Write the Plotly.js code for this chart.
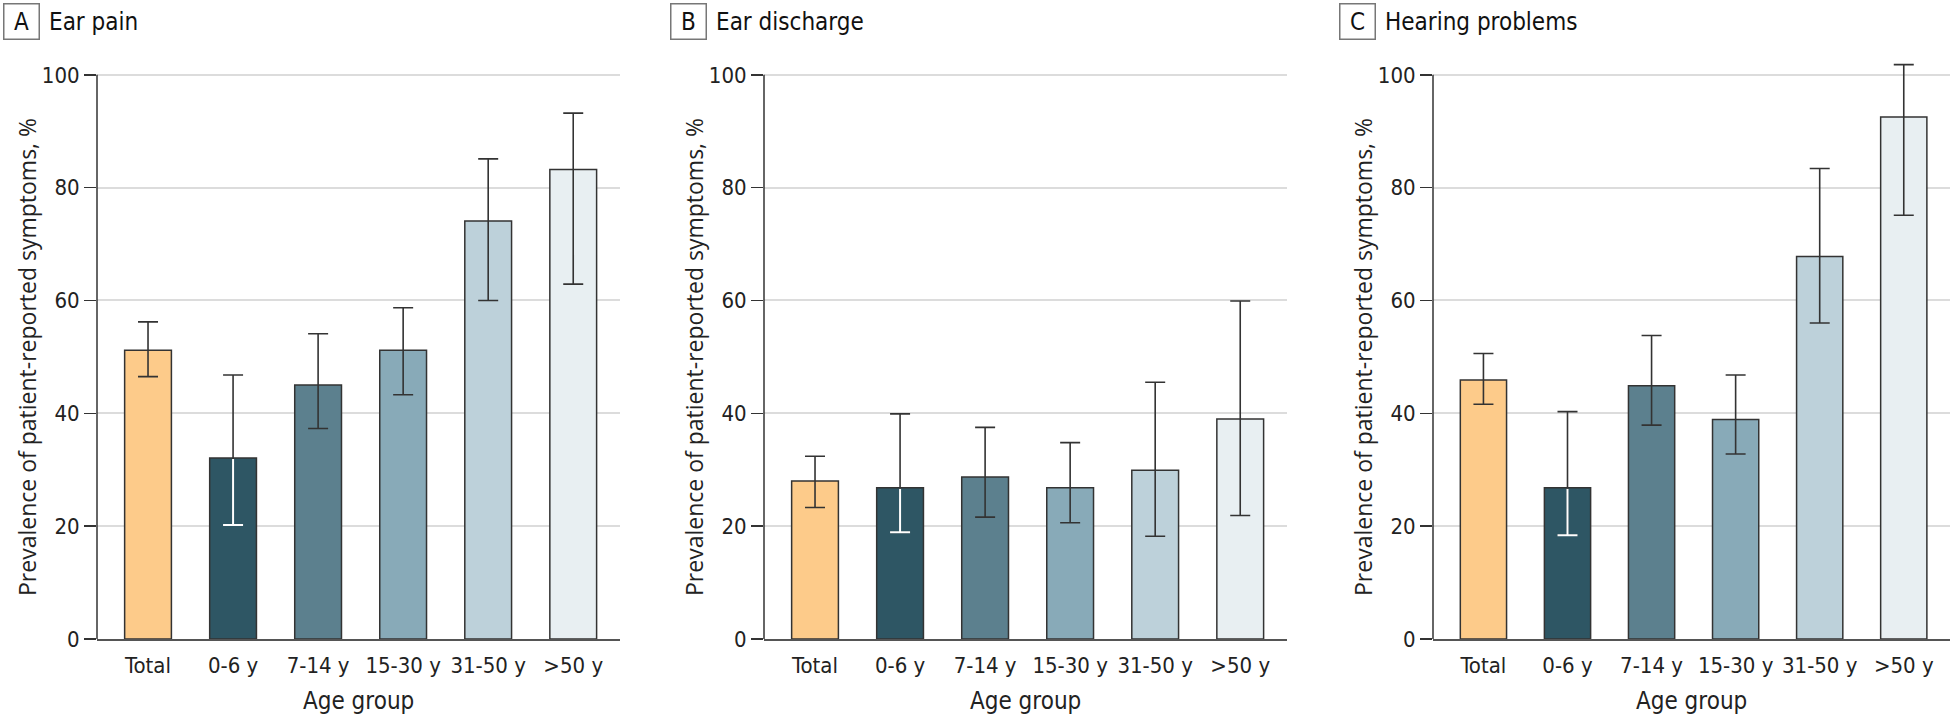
<!DOCTYPE html>
<html>
<head>
<meta charset="utf-8">
<script src="https://cdn.plot.ly/plotly-3.0.1.min.js"></script>
<style>html,body{margin:0;padding:0;background:#fff;}#chart{width:1954px;height:720px;}</style>
</head>
<body>
<div id="chart"></div>
<script>
// ---- Data ----
var categories = ['Total', '0-6 y', '7-14 y', '15-30 y', '31-50 y', '>50 y'];

var earPain      = [51.2, 32.1, 45.0, 51.2, 74.1, 83.2];
var earPainLow   = [46.5, 20.2, 37.3, 43.3, 60.0, 62.9];
var earPainHigh  = [56.2, 46.8, 54.1, 58.7, 85.1, 93.2];

var earDischarge     = [28.0, 26.8, 28.7, 26.8, 29.9, 39.0];
var earDischargeLow  = [23.3, 18.9, 21.6, 20.6, 18.2, 21.9];
var earDischargeHigh = [32.4, 39.9, 37.5, 34.8, 45.5, 59.9];

var hearing     = [45.9, 26.8, 44.9, 38.9, 67.8, 92.5];
var hearingLow  = [41.6, 18.4, 37.9, 32.8, 56.0, 75.1];
var hearingHigh = [50.6, 40.3, 53.8, 46.8, 83.4, 101.8];

var panelLetters = ['A', 'B', 'C'];
var panelTitles = ['Ear pain', 'Ear discharge', 'Hearing problems'];
var yTicks = [0, 20, 40, 60, 80, 100];

var barColors = ['#FDCB8A', '#2E5664', '#5C808E', '#88AAB8', '#BDD1DA', '#E8EFF2'];
var darkIndex = 1; // error bar drawn white inside the darkest bar

// ---- Build ----
var W = 1954, H = 720;
var panels = [
  {v: earPain, lo: earPainLow, hi: earPainHigh, x0: 97, x1: 620},
  {v: earDischarge, lo: earDischargeLow, hi: earDischargeHigh, x0: 764, x1: 1287},
  {v: hearing, lo: hearingLow, hi: hearingHigh, x0: 1433, x1: 1950}
];
var yMax = 103;               // head-room so the tallest CI cap is not clipped
var yBottom = 639, yTop100 = 74.8;
var pxPerUnit = (yBottom - yTop100) / 100;
var yTopPx = yBottom - yMax * pxPerUnit;
var condensed = '"Liberation Sans Narrow", "DejaVu Sans Condensed", "Arial Narrow", sans-serif';
var regular = '"Open Sans", "Noto Sans", sans-serif';

var traces = [];
var layout = {
  width: W, height: H,
  margin: {l: 0, r: 0, t: 0, b: 0},
  paper_bgcolor: '#fff', plot_bgcolor: '#fff',
  showlegend: false,
  barmode: 'overlay',
  annotations: [],
  shapes: [],
  font: {family: condensed, color: '#222'}
};

panels.forEach(function(p, i) {
  var sfx = i === 0 ? '' : String(i + 1);
  var xa = 'x' + sfx, ya = 'y' + sfx;
  var plus = p.hi.map(function(h, k) { return h - p.v[k]; });
  var minus = p.lo.map(function(l, k) { return p.v[k] - l; });
  traces.push({
    type: 'bar', x: categories, y: p.v, xaxis: xa, yaxis: ya,
    width: 0.55,
    marker: {color: barColors, line: {color: '#333', width: 1.5}},
    error_y: {type: 'data', symmetric: false, array: plus, arrayminus: minus,
              color: '#333', thickness: 1.6, width: 10},
    cliponaxis: false, hoverinfo: 'skip'
  });
  // white portion of the error bar inside the dark bar
  traces.push({
    type: 'scatter', mode: 'markers', x: [categories[darkIndex]], y: [p.lo[darkIndex]],
    xaxis: xa, yaxis: ya, marker: {size: 1, opacity: 0},
    error_y: {type: 'data', symmetric: false, array: [p.v[darkIndex] - p.lo[darkIndex] - 0.2], arrayminus: [0],
              color: '#ffffff', thickness: 2, width: 0},
    hoverinfo: 'skip'
  });
  traces.push({
    type: 'scatter', mode: 'markers', x: [categories[darkIndex]], y: [p.lo[darkIndex]],
    xaxis: xa, yaxis: ya, marker: {size: 1, opacity: 0},
    error_y: {type: 'data', symmetric: false, array: [0], arrayminus: [0],
              color: '#ffffff', thickness: 2, width: 10},
    hoverinfo: 'skip'
  });

  layout['xaxis' + sfx] = {
    domain: [p.x0 / W, p.x1 / W], anchor: ya,
    type: 'category', range: [-0.6, 5.55],
    showline: true, linecolor: '#555', linewidth: 2,
    ticks: 'outside', ticklen: 6, tickcolor: 'rgba(0,0,0,0)',
    tickfont: {family: condensed, size: 22, color: '#222'},
    showgrid: false, zeroline: false, fixedrange: true
  };
  layout['yaxis' + sfx] = {
    domain: [(H - yBottom) / H, (H - yTopPx) / H], anchor: xa,
    range: [0, yMax], tickvals: yTicks, ticktext: yTicks.map(String),
    showline: false,
    ticks: 'outside', ticklen: 12, tickwidth: 1.5, tickcolor: '#333',
    tickfont: {family: condensed, size: 22, color: '#222'},
    showgrid: true, gridcolor: '#dcdcdc', gridwidth: 2,
    zeroline: false, fixedrange: true
  };
  // y axis line from first to last tick only
  layout.shapes.push({
    type: 'line', xref: xa + ' domain', yref: ya, x0: 0, x1: 0,
    y0: yTicks[0], y1: yTicks[yTicks.length - 1],
    line: {color: '#333', width: 1.5}, layer: 'above'
  });

  var cx = (p.x0 + p.x1) / 2;
  layout.annotations.push({
    xref: 'paper', yref: 'paper', x: (p.x0 - 70) / W, y: 1 - 357 / H,
    text: 'Prevalence of patient-reported symptoms, %', textangle: -90,
    showarrow: false, xanchor: 'center', yanchor: 'middle',
    font: {family: regular, size: 23, color: '#222'}
  });
  layout.annotations.push({
    xref: 'paper', yref: 'paper', x: cx / W, y: 1 - 701 / H,
    text: 'Age group', showarrow: false, xanchor: 'center', yanchor: 'middle',
    font: {family: condensed, size: 24, color: '#222'}
  });
  layout.annotations.push({
    xref: 'paper', yref: 'paper', x: (p.x0 - 76) / W, y: 1 - 21 / H,
    text: panelLetters[i], showarrow: false, xanchor: 'center', yanchor: 'middle',
    width: 32, height: 32, align: 'center', valign: 'middle',
    bordercolor: '#777', borderwidth: 1.5, borderpad: 1, bgcolor: '#fff',
    font: {family: condensed, size: 24, color: '#111'}
  });
  layout.annotations.push({
    xref: 'paper', yref: 'paper', x: (p.x0 - 50) / W, y: 1 - 22 / H,
    text: panelTitles[i], showarrow: false, xanchor: 'left', yanchor: 'middle',
    font: {family: condensed, size: 24, color: '#111'}
  });
});

Plotly.newPlot('chart', traces, layout, {displayModeBar: false, staticPlot: true});
</script>
</body>
</html>
